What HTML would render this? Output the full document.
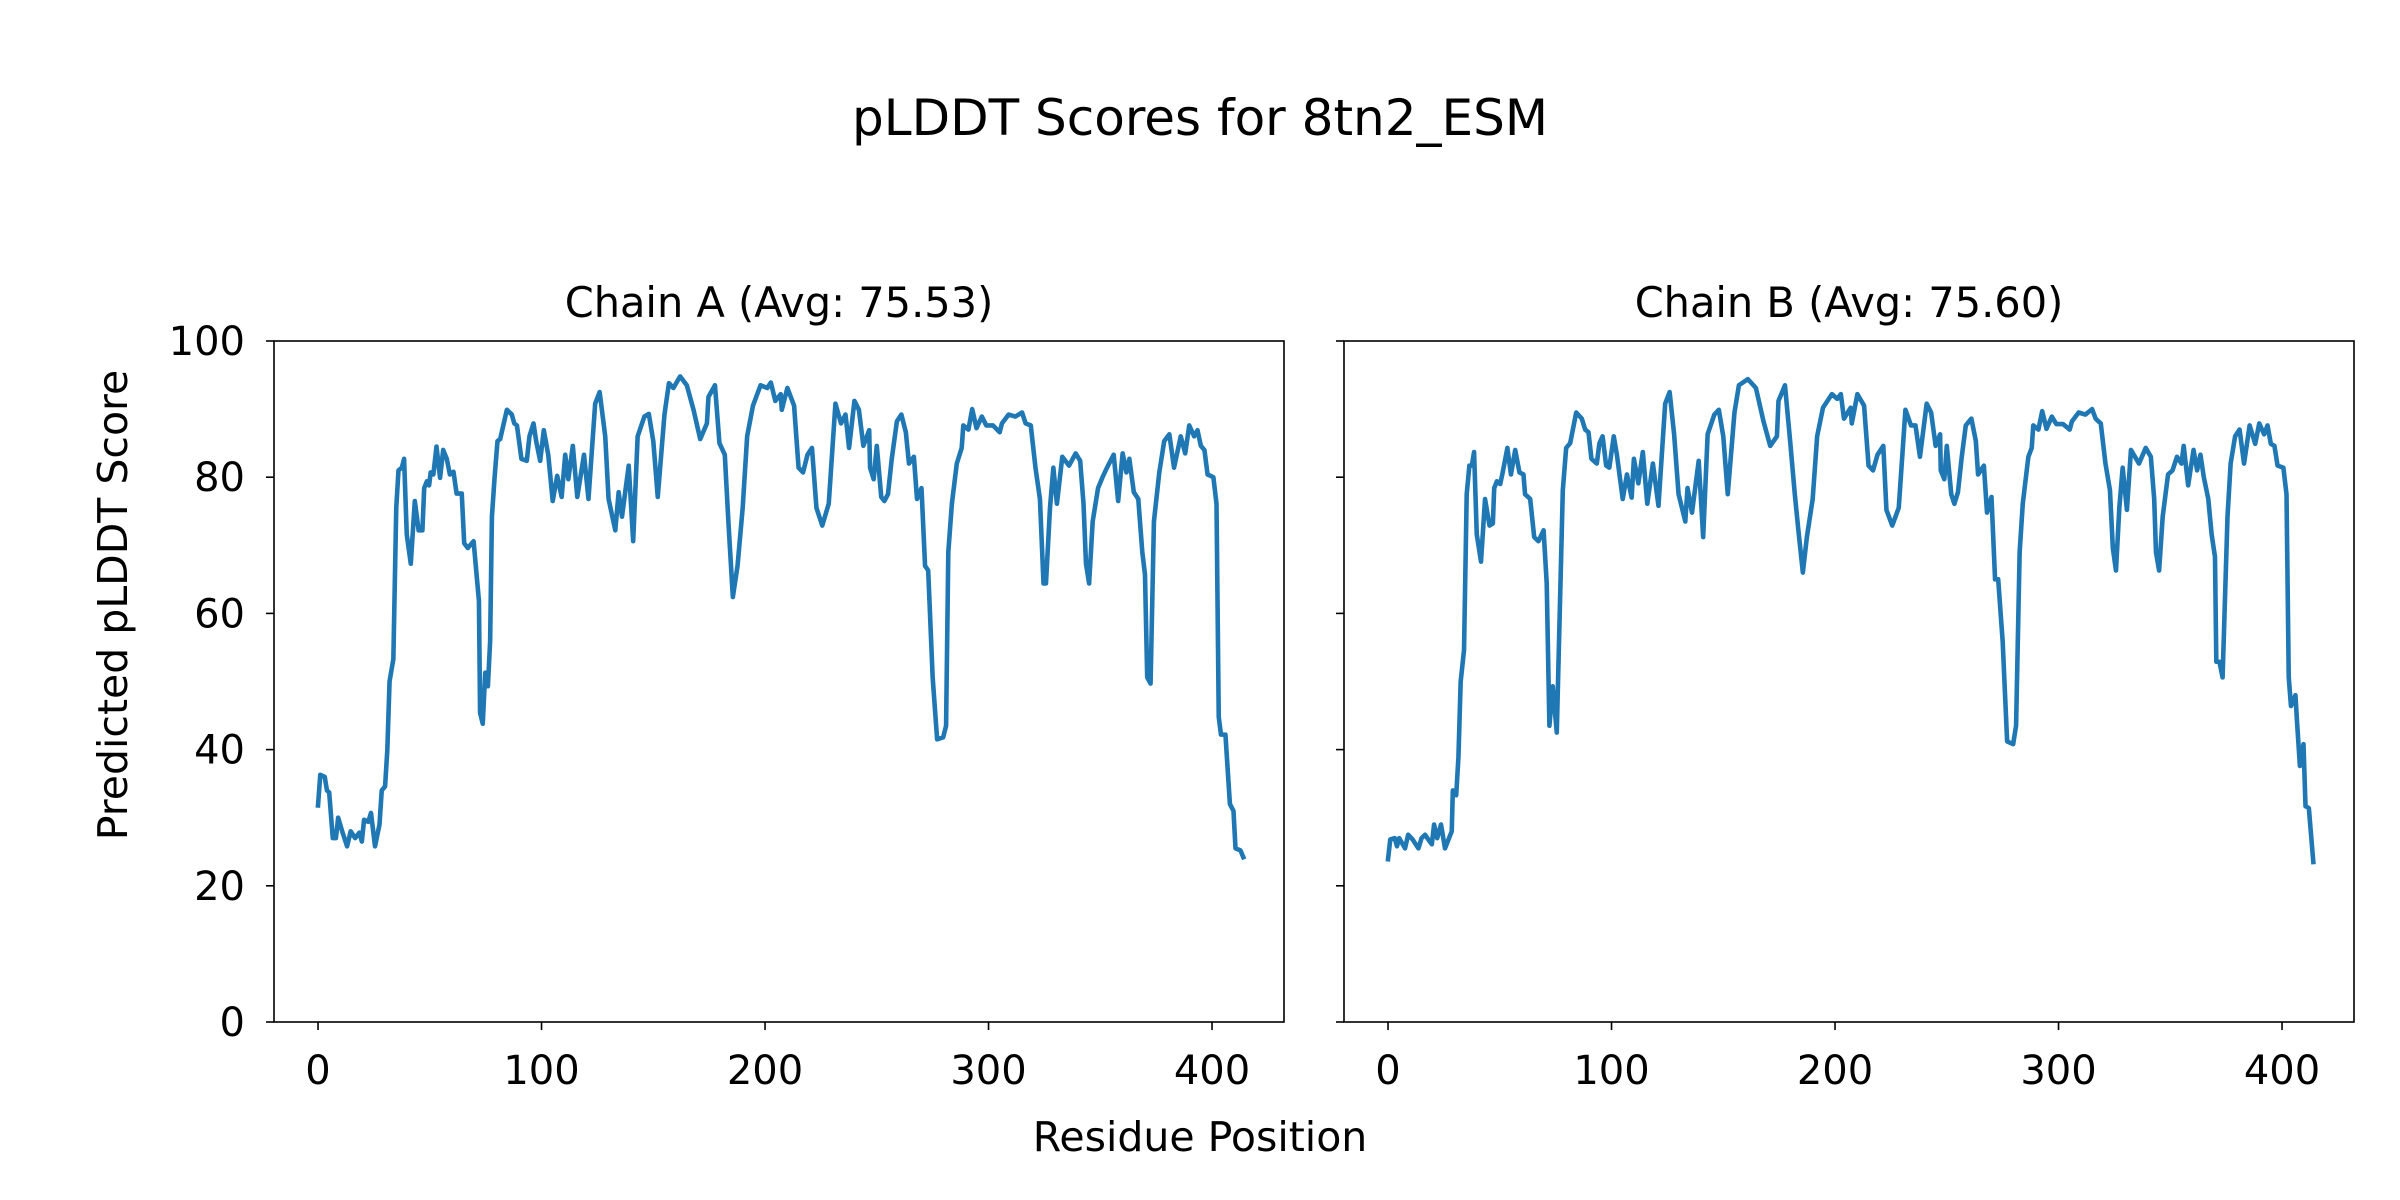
<!DOCTYPE html>
<html><head><meta charset="utf-8">
<style>
html,body{margin:0;padding:0;background:#fff;}
svg{display:block;}
text{font-family:"DejaVu Sans","Liberation Sans",sans-serif;fill:#000;}
</style></head>
<body>
<svg id="fig" width="2400" height="1200" viewBox="0 0 2400 1200" xmlns="http://www.w3.org/2000/svg">
<rect width="2400" height="1200" fill="#fff"/>
<text x="1200" y="135" font-size="50" text-anchor="middle">pLDDT Scores for 8tn2_ESM</text>
<text x="1200" y="1151" font-size="41" text-anchor="middle">Residue Position</text>
<text transform="translate(127,605) rotate(-90)" font-size="41" text-anchor="middle">Predicted pLDDT Score</text>
<g id="panelA"></g>
<g id="panelB"></g>
</svg>
<script>
const xTicks = [0, 100, 200, 300, 400];
const yTicks = [0, 20, 40, 60, 80, 100];
const titleA = "Chain A (Avg: 75.53)";
const titleB = "Chain B (Avg: 75.60)";
const resA = [0,1,3,4,5,6.6,8,9,11,13,14.6,16.6,18.5,19.6,20.6,22.5,23.7,25.5,27.5,28.5,30,31,32,33.7,35,36,37.5,38.5,39.7,41.5,43.3,45,46.7,47.5,48.7,49.7,50.4,51.6,53,54.6,56,57.6,59,60.6,62,64.3,65.4,67,69.6,72,72.5,73.7,74.8,76,77,77.8,79,80.3,81.5,84.5,86.7,87.8,89,91,93.4,94.6,96.4,97.6,99.4,101,103,105,107,109,110.6,112,114,116,119,121,124,126,128.5,130,133,134.5,136,139,141,143,146,148,150,152,155,157,159,162,165,168,171,174,174.7,177.6,179.6,182,183.6,185.6,187.7,190,192,194.6,198,201,202.6,204.6,207,207.5,210,213,215,217,219,221,223,225.6,228.5,231.5,234,236,237.6,240,242,244,246.6,247,248.6,250,252,253.4,255,256.7,259,261,263,264.4,266.6,268,270,271.6,273,275,277,279.7,281,282,283.6,285.8,288,288.7,291,292.7,294.6,297,299,302,305,306,309,312,315,316.6,318.9,321,323,324.6,325.7,327.5,329,330.6,333,336,339,341,342.5,343.6,345,346.6,349,351,353,356,358,360,361.7,363,365,367,368.8,370,371,372.5,374,376.4,378.6,380.9,383,386,388,389.8,392,393.5,395,396.6,398,400.6,402,403,404,406,408,409.6,410.5,412.7,414];
const scoreA = [31.8,36.3,36,34,33.7,27,27,30,27.8,25.8,28,27,27.8,26.5,29.7,29.4,30.7,25.8,29,34,34.6,39.9,50,53.3,75.5,81,81.4,82.7,71.6,67.3,76.5,72.2,72.2,78.4,79.4,78.8,80.7,80.4,84.5,79.9,84,82.7,80.4,80.8,77.6,77.6,70.3,69.6,70.6,61.8,45.4,43.8,51.3,49.3,55.9,74.2,80,85.3,85.6,89.9,89.2,87.9,87.6,82.7,82.4,86,87.9,85.3,82.4,86.9,83.3,76.5,80.2,77.1,83.3,79.7,84.6,77.1,83.3,76.8,90.8,92.5,86,76.8,72.2,77.8,74.2,81.7,70.6,86,88.9,89.3,85.3,77.1,89.2,93.8,93.1,94.8,93.5,89.9,85.6,87.9,91.8,93.5,85,83.3,73.5,62.4,67,75.5,86,90.5,93.5,93.1,93.9,91.2,92.2,89.9,93.1,90.5,81.4,80.7,83.3,84.3,75.5,72.9,76.1,90.8,87.9,89.2,84.3,91.2,89.9,84.6,86.9,81.4,79.7,84.6,77.1,76.5,77.5,82.7,88.2,89.2,86.6,82,83,76.8,78.4,67,66.3,50.6,41.5,41.8,43.5,69,76.1,82,84.3,87.6,87,90,87.2,88.9,87.6,87.6,86.6,87.9,89.2,88.9,89.5,87.9,87.6,81.4,76.8,64.4,64.4,75.5,81.4,76.1,83,81.7,83.5,82.4,76.1,67.3,64.4,73.5,78.4,80,81.4,83.3,76.5,83.5,80.7,82.7,77.8,76.8,69,65.7,50.6,49.7,73.5,80.7,85.3,86.3,81.4,86,83.5,87.6,86,86.9,84.6,84,80.4,80,76.1,44.8,42.2,42.2,32,31,25.5,25.2,24.2];
const resB = [0,1,3,4,5,7.6,9,11,13.6,15,16.6,18,19.6,20.6,22,23.7,25.5,28.5,29,30.5,31.5,32.5,34,35.2,36.4,37.5,38.5,39.7,41.6,43.4,45.4,46.9,47.5,48.7,50.2,51.3,53.4,55,56.9,58.8,60.6,61.3,63.6,65.4,67.3,69.6,71,72.2,73.7,75.5,77,78.2,79.7,81.5,84.2,86.7,88.2,89.7,91,93.4,94.6,96,97.6,99,101,102.4,105,106.9,109,110,112,114,116,118.5,121,124,126,128,130,133,134,136,139,141,143,146,148,150,152,155,157,161,164.6,168,171,174,174.7,177.6,180,182,183.6,185.6,187.4,190,192,194.6,198.6,201,202.6,204,207,207.5,210,213,215,217,219,221.6,223,225.6,228.5,231.5,234,236,238,241,243,245,247,247.3,248.9,250,252,253.4,255,256.7,258.5,261,263,264,266.6,268,270,271.6,273,275,277,279.7,281,282.6,284,286.5,288,288.7,291,292.7,294.6,297,299,302,305,306,309,312,315,316.6,318.9,321,323,324.3,325.7,327.2,328.7,330.6,332.4,336,339,341.3,342.8,343.6,345,346.6,349,351,353,355,356,358,360.4,362,363.5,365,367,368.5,370,370.6,372,373.4,375.6,377,379,381,383,385.5,388,389.8,392,393.5,395,396.6,398,400.6,402,403,404,406,406.7,408,409.6,410.5,412,414];
const scoreB = [23.9,26.8,27,25.8,27,25.5,27.5,26.8,25.5,27,27.5,26.8,26.1,29,27,29,25.5,28,34,33.3,38.9,50,54.6,77.5,81.7,81.7,83.7,71.6,67.6,76.8,72.9,73.2,78.4,79.4,79,80.7,84.3,80.4,84,80.7,80.4,77.5,76.8,71.2,70.6,72.2,64.4,43.5,49.3,42.5,62.4,78.1,84.3,85,89.5,88.6,87,86.6,82.7,82,85,86,81.7,81.4,86,83.3,76.8,80.4,77,82.7,79.1,83.7,76.1,82,75.8,90.8,92.5,86.3,77.5,73.5,78.4,74.8,82.4,71.2,86.3,89.2,89.9,86,77.5,89.5,93.5,94.4,93.1,88.2,84.6,86,91.2,93.5,85,77.5,72.2,66,71.2,76.8,86,90.2,92.2,91.5,92.2,88.6,90.2,87.9,92.2,90.5,81.7,81,83.3,84.6,75.2,72.9,75.5,89.9,87.6,87.6,83,90.8,89.5,84.6,86.3,81,79.7,84.6,77.5,76.1,77.8,83,87.6,88.6,85.3,80.4,81.7,74.8,77.1,65,65,55.9,41.2,40.8,43.5,69,76.1,83,84.3,87.6,87,89.7,87.1,88.9,87.8,87.8,87,88.2,89.5,89.2,90,88.6,87.9,82,78.1,69.6,66.3,75.5,81.4,75.2,84,82,84.3,83,76.8,69,66.3,74.2,80.4,81,83,82,84.6,78.8,84,81,83.3,80,76.8,71.6,68.3,52.9,52.9,50.6,74.2,82,86,87,82,87.6,84.9,87.9,86.3,87.6,84.9,84.6,81.7,81.4,77.5,50.6,46.4,48,44.1,37.6,40.8,31.7,31.4,23.5];

const NS = "http://www.w3.org/2000/svg";
const plotTop = 341, plotBottom = 1022;
const xMin = -19.7, xMax = 432.2, yMin = 0, yMax = 100;

function mk(tag, attrs, parent) {
  const el = document.createElementNS(NS, tag);
  for (const k in attrs) el.setAttribute(k, attrs[k]);
  parent.appendChild(el);
  return el;
}

function drawPanel(g, left, right, title, res, scores, showYLabels, key) {
  const sx = v => left + (v - xMin) / (xMax - xMin) * (right - left);
  const sy = v => plotBottom - (v - yMin) / (yMax - yMin) * (plotBottom - plotTop);

  const t = mk('text', {x: (left + right) / 2, y: 317, 'font-size': 41.5, 'text-anchor': 'middle'}, g);
  t.textContent = title;
  
  

  let d = '';
  res.forEach((r, i) => { d += (i ? 'L' : 'M') + sx(r).toFixed(2) + ' ' + sy(scores[i]).toFixed(2); });
  const line = mk('path', {d: d, fill: 'none', stroke: '#1f77b4', 'stroke-width': 4.6, 'stroke-linejoin': 'round', 'stroke-linecap': 'square'}, g);
  
  

  xTicks.forEach(v => {
    const tk = mk('line', {x1: sx(v), x2: sx(v), y1: plotBottom, y2: plotBottom + 8, stroke: '#000', 'stroke-width': 1.6}, g);
    
    
    const lb = mk('text', {x: sx(v), y: 1084, 'font-size': 40, 'text-anchor': 'middle'}, g);
    lb.textContent = v;
    
    
  });
  yTicks.forEach(v => {
    const tk = mk('line', {x1: left - 8, x2: left, y1: sy(v), y2: sy(v), stroke: '#000', 'stroke-width': 1.6}, g);
    
    
    if (showYLabels) {
      const lb = mk('text', {x: left - 29, y: sy(v) + 14, 'font-size': 40, 'text-anchor': 'end'}, g);
      lb.textContent = v;
      
      
    }
  });
  const frame = mk('rect', {x: left, y: plotTop, width: right - left, height: plotBottom - plotTop, fill: 'none', stroke: '#000', 'stroke-width': 1.6}, g);
  
  
}

drawPanel(document.getElementById('panelA'), 274, 1284, titleA, resA, scoreA, true, 'a');
drawPanel(document.getElementById('panelB'), 1344, 2354, titleB, resB, scoreB, false, 'b');
</script>
</body></html>
